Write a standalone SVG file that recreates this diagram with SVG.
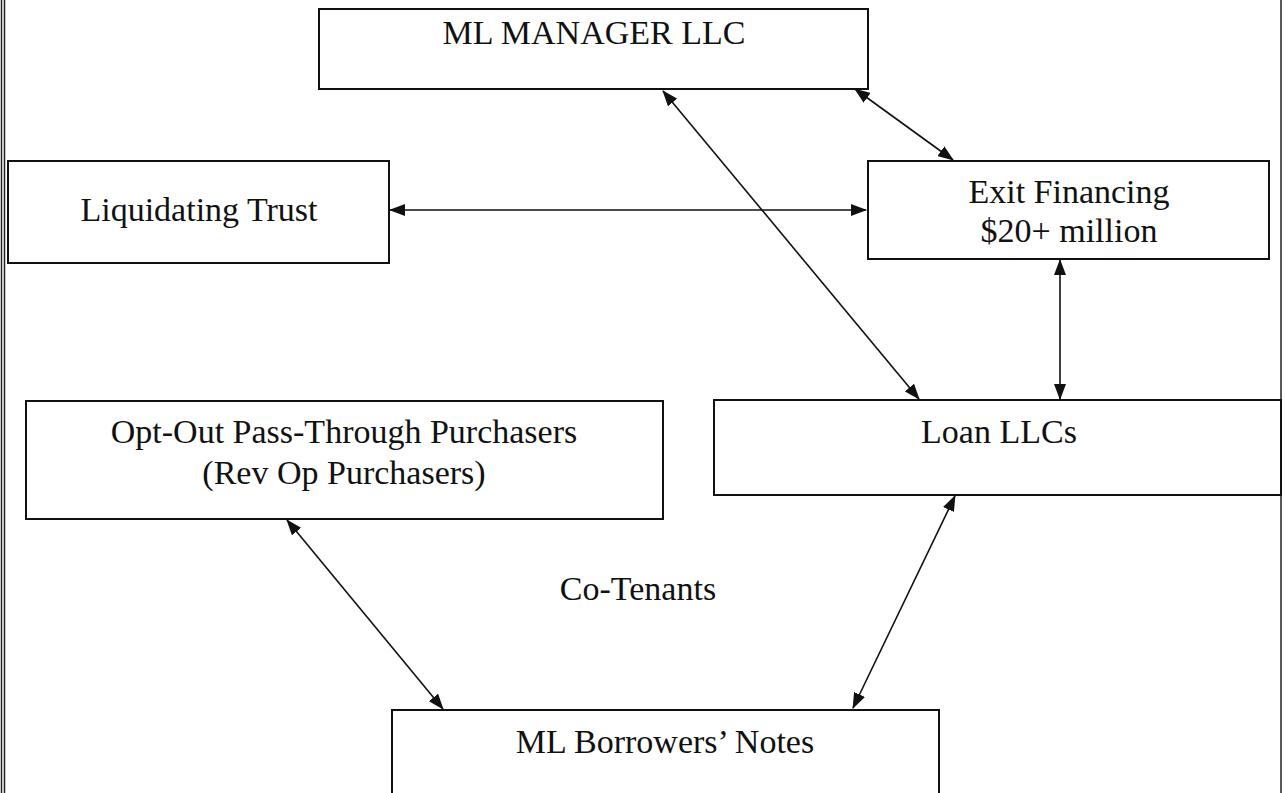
<svg xmlns="http://www.w3.org/2000/svg" width="1285" height="793" viewBox="0 0 1285 793">
  <style>
    .box { fill: #ffffff; stroke: #111111; stroke-width: 2; }
    .lbl { font-family: "Liberation Serif", "Times New Roman", serif; font-size: 34px; fill: #111111; text-anchor: middle; }
    .conn { stroke: #111111; stroke-width: 1.6; fill: none; marker-start: url(#ah); marker-end: url(#ah); }
    .frame { stroke: #222222; stroke-width: 1.5; }
  </style>
  <defs>
    <marker id="ah" viewBox="0 0 16 12" refX="15" refY="6" markerWidth="16" markerHeight="12" markerUnits="userSpaceOnUse" orient="auto-start-reverse">
      <path d="M0,0 L16,6 L0,12 Z" fill="#111111"/>
    </marker>
  </defs>
  <rect x="0" y="0" width="1285" height="793" fill="#ffffff"/>
  <g id="frame">
    <line class="frame" x1="1.5" y1="0" x2="1.5" y2="793"/>
    <line class="frame" x1="4.5" y1="0" x2="4.5" y2="793"/>
    <line class="frame" x1="1281" y1="0" x2="1281" y2="793"/>
  </g>
  <g id="connectors">
    <line class="conn" x1="663" y1="91" x2="919" y2="399"/>
    <line class="conn" x1="855" y1="89" x2="953" y2="160"/>
    <line class="conn" x1="390" y1="210" x2="866" y2="210"/>
    <line class="conn" x1="1060" y1="260" x2="1060" y2="399"/>
    <line class="conn" x1="287" y1="520" x2="443" y2="709"/>
    <line class="conn" x1="955" y1="496" x2="853" y2="708"/>
  </g>
  <g id="ml-manager">
    <rect class="box" x="319" y="9" width="549" height="80"/>
    <text class="lbl" x="594" y="44">ML MANAGER LLC</text>
  </g>
  <g id="liquidating-trust">
    <rect class="box" x="8" y="161" width="381" height="102"/>
    <text class="lbl" x="199" y="221">Liquidating Trust</text>
  </g>
  <g id="exit-financing">
    <rect class="box" x="868" y="161" width="401" height="98"/>
    <text class="lbl" x="1069" y="203">Exit Financing</text>
    <text class="lbl" x="1069" y="242">$20+ million</text>
  </g>
  <g id="opt-out">
    <rect class="box" x="26" y="401" width="637" height="118"/>
    <text class="lbl" x="344" y="443">Opt-Out Pass-Through Purchasers</text>
    <text class="lbl" x="344" y="484">(Rev Op Purchasers)</text>
  </g>
  <g id="loan-llcs">
    <rect class="box" x="714" y="400" width="567" height="95"/>
    <text class="lbl" x="999" y="443">Loan LLCs</text>
  </g>
  <g id="co-tenants">
    <text class="lbl" x="638" y="600">Co-Tenants</text>
  </g>
  <g id="ml-borrowers-notes">
    <rect class="box" x="392" y="710" width="547" height="100"/>
    <text class="lbl" x="665" y="753">ML Borrowers’ Notes</text>
  </g>
</svg>
